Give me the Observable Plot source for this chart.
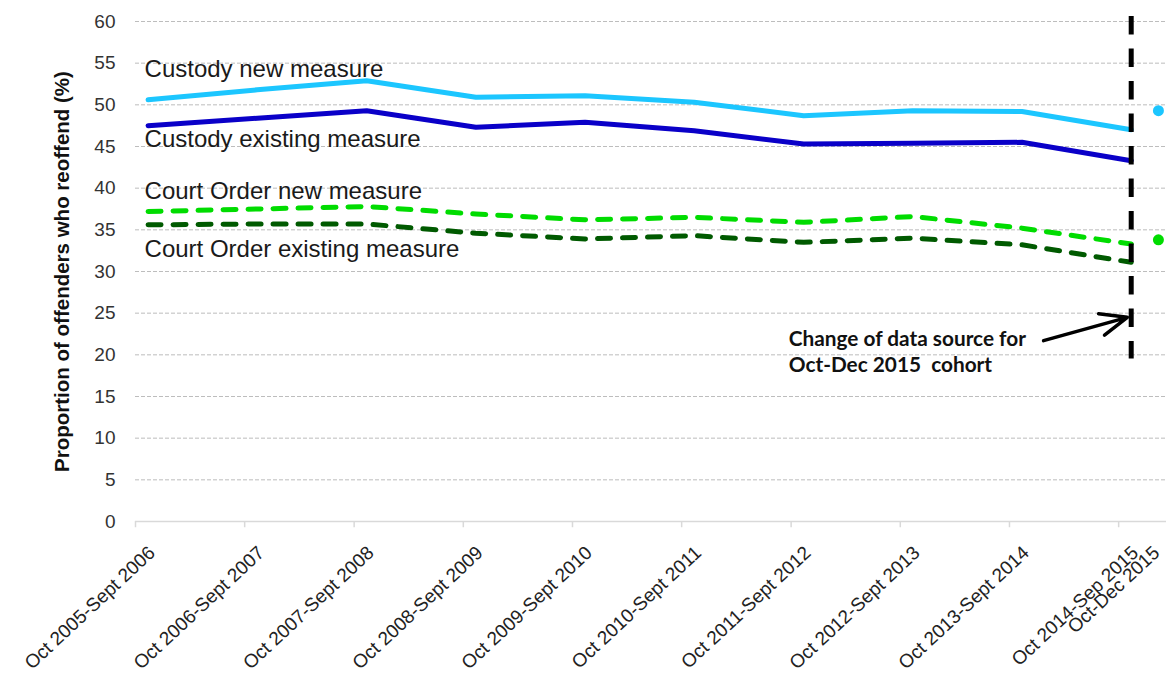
<!DOCTYPE html>
<html>
<head>
<meta charset="utf-8">
<script src="https://cdn.jsdelivr.net/npm/d3@7"></script>
<script src="https://cdn.jsdelivr.net/npm/@observablehq/plot@0.6"></script>
<style>
  body { margin: 0; background: #fff; }
  #chart svg { display: block; }
</style>
</head>
<body>
<div id="chart"></div>
<script>
// ---- Data ----
const periods = [
  "Oct 2005-Sept 2006", "Oct 2006-Sept 2007", "Oct 2007-Sept 2008",
  "Oct 2008-Sept 2009", "Oct 2009-Sept 2010", "Oct 2010-Sept 2011",
  "Oct 2011-Sept 2012", "Oct 2012-Sept 2013", "Oct 2013-Sept 2014",
  "Oct 2014-Sep 2015", "Oct-Dec 2015"
];
// last month of each cohort
const cohortEnd = [
  "2006-09", "2007-09", "2008-09", "2009-09", "2010-09", "2011-09",
  "2012-09", "2013-09", "2014-09", "2015-09", "2015-12"
];
const custodyNew      = [50.6, 51.8, 52.9, 50.9, 51.1, 50.3, 48.7, 49.3, 49.2, 47.0];
const custodyExisting = [47.5, 48.4, 49.3, 47.3, 47.9, 46.9, 45.3, 45.4, 45.5, 43.3];
const courtNew        = [37.2, 37.5, 37.8, 36.9, 36.2, 36.5, 35.9, 36.6, 35.2, 33.3];
const courtExisting   = [35.6, 35.7, 35.7, 34.6, 33.9, 34.3, 33.5, 34.0, 33.2, 31.1];
// Oct-Dec 2015 cohort (new data source)
const newSourceCustody = 49.3;
const newSourceCourt   = 33.8;

const yTicks = d3.range(0, 61, 5);

const seriesNames = [
  "Custody new measure", "Custody existing measure",
  "Court Order new measure", "Court Order existing measure"
];
const seriesValues = [custodyNew, custodyExisting, courtNew, courtExisting];
const seriesLabelY = [53.3, 44.9, 38.7, 31.7];   // baseline of in-chart labels

const annotationLines = ["Change of data source for", "Oct-Dec 2015  cohort"];
const annotationStart = "2012-07-13";
const annotationY = [21.1, 17.9];
const arrowFrom = {date: "2014-11-12", value: 21.7};
const arrowTo   = {date: "2015-08-19", value: 24.5};
const changeRuleRange = [60.6, 19.5];

// ---- Build tables ----
const parseMonth = d3.utcParse("%Y-%m");
const parseDay = d3.utcParse("%Y-%m-%d");
const dates = cohortEnd.map(parseMonth);
const annualDates = dates.slice(0, 10);

const styles = {
  "Custody new measure":          {color: "#1cc6ff", dash: null},
  "Custody existing measure":     {color: "#0a00c8", dash: null},
  "Court Order new measure":      {color: "#00dc00", dash: "13,12"},
  "Court Order existing measure": {color: "#005a00", dash: "13,12"}
};

const rows = [];
seriesNames.forEach((s, k) => {
  seriesValues[k].forEach((v, i) => rows.push({series: s, date: annualDates[i], value: v}));
});

const dots = [
  {series: "Custody new measure", date: dates[10], value: newSourceCustody},
  {series: "Court Order new measure", date: dates[10], value: newSourceCourt}
];

const labelRows = seriesNames.map((s, k) => ({series: s, date: annualDates[0], value: seriesLabelY[k]}));
const xLabelRows = periods.map((p, i) => ({period: p, date: dates[i]}));
const tickDates = annualDates.map(d => d3.utcDay.offset(d, -42));
const changeDate = annualDates[9];

const fontFamily = "'Liberation Sans', Arial, Helvetica, sans-serif";

const lineMarks = seriesNames.map(s => Plot.line(rows.filter(r => r.series === s), {
  x: "date", y: "value",
  stroke: styles[s].color, strokeWidth: 5,
  strokeDasharray: styles[s].dash,
  strokeLinecap: "round", strokeLinejoin: "round"
}));

const xLabelStyle = {
  x: "date", y: () => 0, text: "period", rotate: -43,
  textAnchor: "end", lineAnchor: "top", dy: 23, fontSize: 19, fill: "#222"
};

const chart = Plot.plot({
  width: 1166,
  height: 673,
  marginLeft: 135,
  marginRight: 0,
  marginTop: 21,
  marginBottom: 152,
  style: {fontFamily, background: "#fff"},
  x: {type: "utc", domain: [parseDay("2006-07-21"), parseDay("2015-12-28")], axis: null},
  y: {domain: [0, 60], axis: null},
  marks: [
    Plot.gridY(yTicks.filter(d => d > 0), {stroke: "#bdbdbd", strokeOpacity: 1, strokeDasharray: "4,2"}),
    Plot.ruleY([0], {stroke: "#d9d9d9", strokeWidth: 1.5}),
    Plot.ruleX(tickDates, {x: d => d, y1: 0, y2: -0.75, stroke: "#d9d9d9", strokeWidth: 1.5}),
    Plot.axisY(yTicks, {tickSize: 0, tickPadding: 20, fontSize: 19, color: "#333", label: null}),
    Plot.text(["Proportion of offenders who reoffend (%)"], {
      frameAnchor: "left", rotate: -90, dx: -67, textAnchor: "middle",
      lineAnchor: "bottom", fontWeight: "bold", fontSize: 20.5, fill: "#111"
    }),
    Plot.text(xLabelRows.slice(0, 10), {...xLabelStyle, dx: -1}),
    Plot.text(xLabelRows.slice(10), {...xLabelStyle, dx: -7}),
    ...lineMarks,
    Plot.dot(dots, {x: "date", y: "value", r: 5.5, fill: d => styles[d.series].color, stroke: "none"}),
    Plot.ruleX([changeDate], {
      y1: changeRuleRange[0], y2: changeRuleRange[1],
      stroke: "#000", strokeWidth: 5, strokeDasharray: "18.5,14"
    }),
    Plot.text(labelRows, {
      x: "date", y: "value", text: "series", textAnchor: "start",
      lineAnchor: "bottom", dx: -3.5, fontSize: 24, fill: "#1a1a1a"
    }),
    Plot.text(annotationLines.map((t, i) => ({t, y: annotationY[i]})), {
      x: () => parseDay(annotationStart), y: "y", text: "t", textAnchor: "start",
      lineAnchor: "bottom", fontSize: 20.8, fontWeight: "bold", fill: "#111",
      fontFamily: "Lato, 'Open Sans', sans-serif"
    }),
    Plot.arrow([{x1: parseDay(arrowFrom.date), y1: arrowFrom.value, x2: parseDay(arrowTo.date), y2: arrowTo.value}], {
      x1: "x1", y1: "y1", x2: "x2", y2: "y2",
      stroke: "#000", strokeWidth: 3.5, headLength: 13, headAngle: 45
    })
  ]
});

document.getElementById("chart").appendChild(chart);
</script>
</body>
</html>
